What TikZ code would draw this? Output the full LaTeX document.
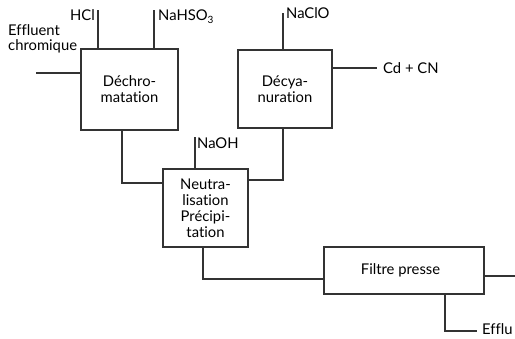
\documentclass[tikz,border=0pt]{standalone}
\usepackage{fontspec}
\setmainfont{Lato}[Ligatures={NoCommon}]
\begin{document}
\begin{tikzpicture}[x=1pt,y=-1pt,
  ln/.style={draw=black!80,line width=1.1pt},
  box/.style={draw=black!80,line width=1.1pt,inner sep=0pt,align=center,
    font=\fontsize{14.8}{16}\selectfont,text=black},
  lbl/.style={inner sep=0pt,font=\fontsize{14.8}{15}\selectfont,text=black}]
\useasboundingbox (0,0) rectangle (515,338);
% boxes
\node[box,minimum width=97pt,minimum height=81pt] (dechro) at (129.5,89.5) {Déchro-\\matation};
\node[box,minimum width=94pt,minimum height=78pt] (decya) at (285,89) {Décya-\\nuration};
\node[box,minimum width=85pt,minimum height=78pt] (neutra) at (205.5,208) {Neutra-\\lisation\\Précipi-\\tation};
\node[box,minimum width=160pt,minimum height=47pt] (filtre) at (404,270.5) {\hspace*{-7pt}Filtre presse};
% labels
\node[lbl,anchor=base east] (hcl) at (95,20) {HCl};
\node[lbl,anchor=base west] (nahso) at (158,20) {NaHSO\raisebox{-3pt}{\fontsize{10}{10}\selectfont 3}};
\node[lbl,anchor=base west,align=left] (effl) at (8,50) {Effluent\\chromique};
\node[lbl,anchor=base west] (naclo) at (286,18) {NaClO};
\node[lbl,anchor=base west] (cdcn) at (383,73) {Cd + CN};
\node[lbl,anchor=base west] (naoh) at (197,148) {NaOH};
\node[lbl,anchor=base west] (efflu) at (482,334) {Efflu};
% free ends
\coordinate (hclT) at (98,10);
\coordinate (nahsoT) at (154,10);
\coordinate (efflE) at (36,73);
\coordinate (nacloT) at (283,13);
\coordinate (cdcnE) at (377,68);
\coordinate (naohT) at (195,137);
\coordinate (outE) at (515,276);
\coordinate (effluE) at (477,331);
% connectors
\draw[ln] (hclT) -- (hclT |- dechro.north);
\draw[ln] (nahsoT) -- (nahsoT |- dechro.north);
\draw[ln] (efflE) -- (efflE -| dechro.west);
\draw[ln] (nacloT) -- (nacloT |- decya.north);
\draw[ln] (cdcnE -| decya.east) -- (cdcnE);
\draw[ln] (122,0 |- dechro.south) -- (122,183) -- (122,183 -| neutra.west);
\draw[ln] (283,0 |- decya.south) -- (283,180) -- (283,180 -| neutra.east);
\draw[ln] (naohT) -- (naohT |- neutra.north);
\draw[ln] (203,0 |- neutra.south) -- (203,279) -- (203,279 -| filtre.west);
\draw[ln] (outE -| filtre.east) -- (outE);
\draw[ln] (445,0 |- filtre.south) -- (445,331) -- (effluE);
\end{tikzpicture}
\end{document}
